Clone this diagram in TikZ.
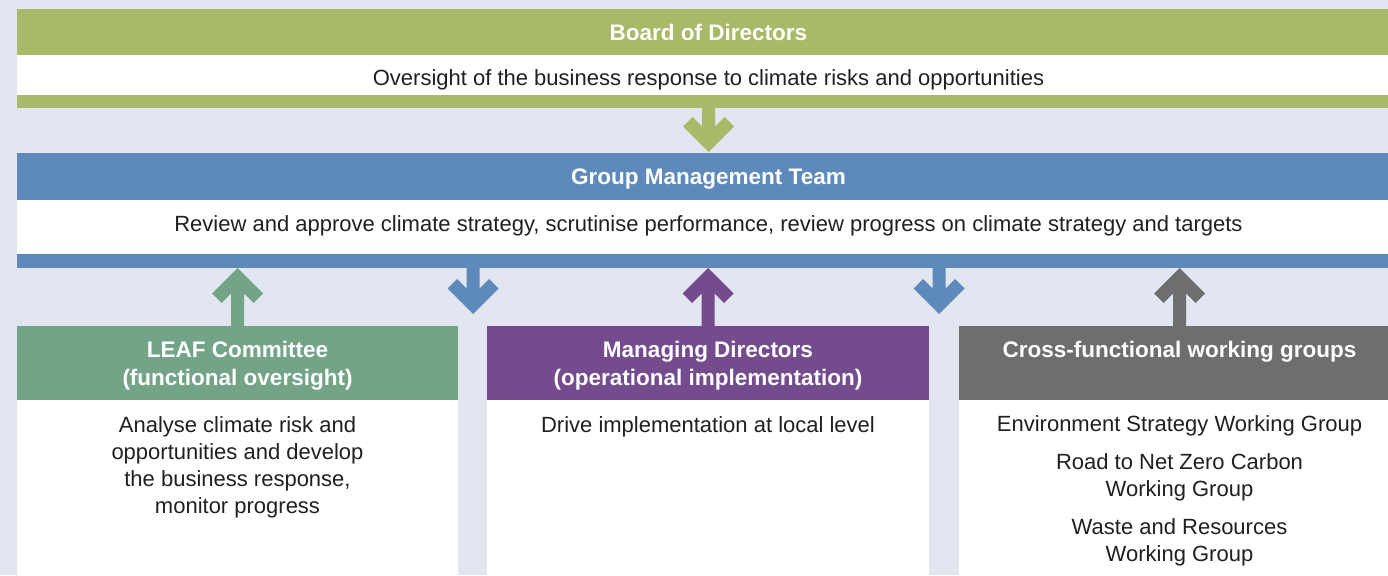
\documentclass[tikz,border=0pt]{standalone}
\usepackage{fontspec}
\setmainfont{Liberation Sans}
\usetikzlibrary{calc}

\definecolor{pagebg}{HTML}{E1E6F1}
\definecolor{boardgreen}{HTML}{A8B968}
\definecolor{gmtblue}{HTML}{5D8ABB}
\definecolor{leafgreen}{HTML}{74A487}
\definecolor{mdpurple}{HTML}{744B8C}
\definecolor{cfgray}{HTML}{6D6E70}
\definecolor{bodytext}{HTML}{231F20}

% chevron arrow: colour, start point, tip point (vertical)
\newcommand\chevarrow[3]{%
  \fill[#1] let \p1=#2, \p2=#3, \n1={sign(\y2-\y1)} in
    ({\x1-6.5pt},{\y1}) -- ({\x2-6.5pt},{\y2-\n1*25.5pt}) --
    ({\x2-16pt},{\y2-\n1*35pt}) -- ({\x2-25.5pt},{\y2-\n1*25.5pt}) --
    (\x2,\y2) --
    ({\x2+25.5pt},{\y2-\n1*25.5pt}) -- ({\x2+16pt},{\y2-\n1*35pt}) --
    ({\x2+6.5pt},{\y2-\n1*25.5pt}) -- ({\x1+6.5pt},{\y1}) -- cycle;}

\tikzset{
  band/.style={rectangle, draw=none, inner sep=0pt, outer sep=0pt, anchor=north west},
  headtext/.style={text=white, font=\bfseries\fontsize{22.5}{28}\selectfont, align=center, inner sep=0pt},
  bodytxt/.style={text=bodytext, font=\fontsize{22}{27}\selectfont, align=center, inner sep=0pt},
}

\begin{document}
\begin{tikzpicture}[x=1pt,y=-1pt]
\useasboundingbox (0,0) rectangle (1388,575);
\clip (0,0) rectangle (1388,575);
\fill[pagebg] (0,0) rectangle (1388,575);

% Board of Directors
\node[band, fill=boardgreen, minimum width=1383pt, minimum height=46pt] (boardhead) at (17,9) {};
\node[band, fill=white, minimum width=1383pt, minimum height=40pt] (boardbody) at (17,55) {};
\node[band, fill=boardgreen, minimum width=1383pt, minimum height=13pt] (boardbar) at (17,95) {};
\node[headtext] (boardtitle) at (boardhead.center) {Board of Directors};
\node[bodytxt] (boardtxt) at ($(boardbody.center)+(0,5)$) {Oversight of the business response to climate risks and opportunities};

% Group Management Team
\node[band, fill=gmtblue, minimum width=1383pt, minimum height=47pt] (gmthead) at (17,153) {};
\node[band, fill=white, minimum width=1383pt, minimum height=54pt] (gmtbody) at (17,200) {};
\node[band, fill=gmtblue, minimum width=1383pt, minimum height=14pt] (gmtbar) at (17,254) {};
\node[headtext] (gmttitle) at ($(gmthead.center)+(0,3)$) {Group Management Team};
\node[bodytxt] (gmttxt) at ($(gmtbody.center)+(0,-1)$) {Review and approve climate strategy, scrutinise performance, review progress on climate strategy and targets};

% LEAF Committee
\node[band, fill=leafgreen, minimum width=441pt, minimum height=74pt] (leafhead) at (17,326) {};
\node[band, fill=white, minimum width=441pt, minimum height=175pt] (leafbody) at (17,400) {};
\node[headtext] (leaftitle) at ($(leafhead.center)+(0,3)$) {LEAF Committee\\(functional oversight)};
\node[bodytxt] (leaftxt) at ($(leafbody.north)+(0,67)$) {Analyse climate risk and\\opportunities and develop\\the business response,\\monitor progress};

% Managing Directors
\node[band, fill=mdpurple, minimum width=442pt, minimum height=74pt] (mdhead) at (487,326) {};
\node[band, fill=white, minimum width=442pt, minimum height=175pt] (mdbody) at (487,400) {};
\node[headtext] (mdtitle) at ($(mdhead.center)+(0,3)$) {Managing Directors\\(operational implementation)};
\node[bodytxt] (mdtxt) at ($(mdbody.north)+(0,27)$) {Drive implementation at local level};

% Cross-functional working groups
\node[band, fill=cfgray, minimum width=441pt, minimum height=74pt] (cfhead) at (959,326) {};
\node[band, fill=white, minimum width=441pt, minimum height=175pt] (cfbody) at (959,400) {};
\node[headtext] (cftitle) at ($(cfhead.center)+(0,-11)$) {Cross-functional working groups};
\node[bodytxt] (cfa) at ($(cfbody.north)+(0,26)$) {Environment Strategy Working Group};
\node[bodytxt] (cfb) at ($(cfbody.north)+(0,77.5)$) {Road to Net Zero Carbon\\Working Group};
\node[bodytxt] (cfc) at ($(cfbody.north)+(0,142.5)$) {Waste and Resources\\Working Group};

% connectors
\chevarrow{boardgreen}{(boardbar.south -| gmthead.north)}{($(gmthead.north)+(0,-1)$)}
\chevarrow{leafgreen}{(leafhead.north)}{(gmtbar.south -| leafhead.north)}
\chevarrow{mdpurple}{(mdhead.north)}{(gmtbar.south -| mdhead.north)}
\chevarrow{cfgray}{(cfhead.north)}{(gmtbar.south -| cfhead.north)}
\coordinate (dropa) at (473,314);
\coordinate (dropb) at (939,314);
\chevarrow{gmtblue}{(gmtbar.south -| dropa)}{(dropa)}
\chevarrow{gmtblue}{(gmtbar.south -| dropb)}{(dropb)}
\end{tikzpicture}
\end{document}
